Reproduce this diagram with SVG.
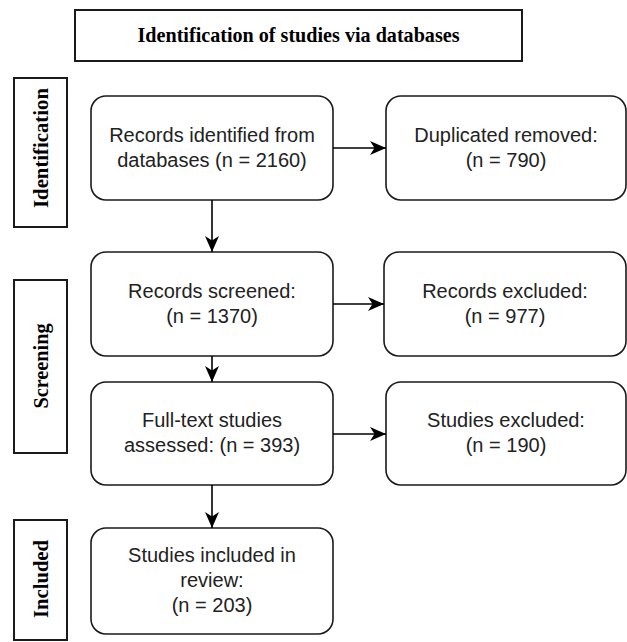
<svg xmlns="http://www.w3.org/2000/svg" width="627" height="642" viewBox="0 0 627 642">
<style>
.box{fill:#fff;stroke:#1a1a1a;stroke-width:1.6}
.lab{fill:#fff;stroke:#1a1a1a;stroke-width:2}
.t{font-family:"Liberation Sans",Arial,sans-serif;font-size:20px;fill:#222;text-anchor:middle}
.h{font-family:"Liberation Serif","Times New Roman",serif;font-size:22px;font-weight:bold;fill:#000;text-anchor:middle}
.c{fill:none;stroke:#000;stroke-width:1.6}
</style>
<defs>
<marker id="ah" markerUnits="userSpaceOnUse" markerWidth="18" markerHeight="16" viewBox="-16 -8 18 16" refX="0" refY="0" orient="auto">
<path d="M0,0 L-16,-7 L-11.5,0 L-16,7 Z" fill="#000"/>
</marker>
</defs>
<rect width="627" height="642" fill="#fff"/>
<g id="title">
<rect class="lab" x="75" y="10" width="447" height="51"/>
<text class="h" x="298.5" y="42" textLength="322" lengthAdjust="spacingAndGlyphs">Identification of studies via databases</text>
</g>
<g id="label-identification">
<rect class="lab" x="14" y="78" width="53" height="149"/>
<text class="h" transform="translate(48,148) rotate(-90)" textLength="120" lengthAdjust="spacingAndGlyphs">Identification</text>
</g>
<g id="label-screening">
<rect class="lab" x="14" y="280" width="53" height="173"/>
<text class="h" transform="translate(48,366) rotate(-90)" textLength="85" lengthAdjust="spacingAndGlyphs">Screening</text>
</g>
<g id="label-included">
<rect class="lab" x="14" y="520" width="53" height="120"/>
<text class="h" transform="translate(48,579) rotate(-90)" textLength="78" lengthAdjust="spacingAndGlyphs">Included</text>
</g>
<g id="n-identified">
<rect class="box" x="91" y="96" width="242" height="104" rx="15"/>
<text class="t" x="212" y="142">Records identified from</text>
<text class="t" x="212" y="167">databases (n = 2160)</text>
</g>
<g id="n-duplicates">
<rect class="box" x="386" y="96" width="240" height="104" rx="15"/>
<text class="t" x="506" y="142">Duplicated removed:</text>
<text class="t" x="506" y="167">(n = 790)</text>
</g>
<g id="n-screened">
<rect class="box" x="91" y="252" width="242" height="104" rx="15"/>
<text class="t" x="212" y="298">Records screened:</text>
<text class="t" x="212" y="323">(n = 1370)</text>
</g>
<g id="n-rec-excluded">
<rect class="box" x="384" y="252" width="242" height="104" rx="15"/>
<text class="t" x="505" y="298">Records excluded:</text>
<text class="t" x="505" y="323">(n = 977)</text>
</g>
<g id="n-fulltext">
<rect class="box" x="91" y="382" width="242" height="103" rx="15"/>
<text class="t" x="212" y="427">Full-text studies</text>
<text class="t" x="212" y="452">assessed: (n = 393)</text>
</g>
<g id="n-stud-excluded">
<rect class="box" x="386" y="382" width="240" height="103" rx="15"/>
<text class="t" x="506" y="427">Studies excluded:</text>
<text class="t" x="506" y="452">(n = 190)</text>
</g>
<g id="n-included">
<rect class="box" x="91" y="528" width="242" height="106" rx="15"/>
<text class="t" x="212" y="562">Studies included in</text>
<text class="t" x="212" y="587">review:</text>
<text class="t" x="212" y="612">(n = 203)</text>
</g>
<g id="connectors">
<path class="c" d="M333,148 L386,148" marker-end="url(#ah)"/>
<path class="c" d="M212,200 L212,252" marker-end="url(#ah)"/>
<path class="c" d="M333,304 L384,304" marker-end="url(#ah)"/>
<path class="c" d="M212,356 L212,382" marker-end="url(#ah)"/>
<path class="c" d="M333,434 L386,434" marker-end="url(#ah)"/>
<path class="c" d="M212,485 L212,528" marker-end="url(#ah)"/>
</g>
</svg>
